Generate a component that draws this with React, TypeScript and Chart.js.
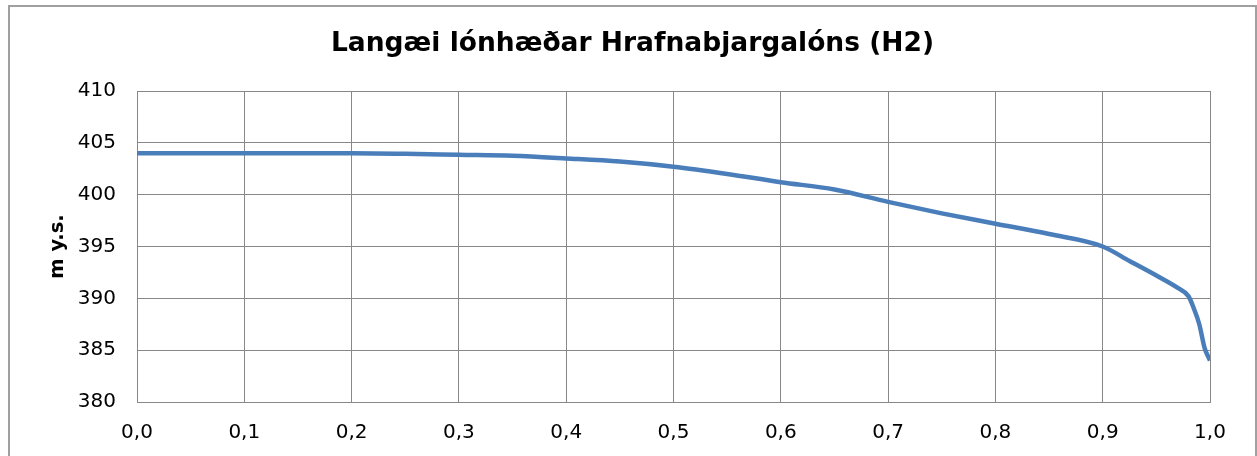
import React, { useEffect, useRef } from "react";
import { Chart, registerables } from "chart.js";

Chart.register(...registerables);

const titleText = "Langæi lónhæðar Hrafnabjargalóns (H2)";
const yAxisTitle = "m y.s.";

const durationFraction = [
  0, 0.05, 0.1, 0.15, 0.2, 0.25, 0.3, 0.35, 0.4, 0.45, 0.5, 0.55, 0.6, 0.65, 0.7,
  0.75, 0.8, 0.85, 0.9, 0.925, 0.95, 0.97, 0.98, 0.985, 0.99, 0.995, 1.0,
];
const waterLevel = [
  404.0, 404.0, 404.0, 404.0, 404.0, 403.95, 403.85, 403.75, 403.5, 403.2, 402.7,
  402.0, 401.2, 400.5, 399.3, 398.2, 397.2, 396.2, 395.0, 393.6, 392.2, 391.0,
  390.2, 389.0, 387.5, 385.2, 384.0,
];

const xMin = 0;
const xMax = 1;
const xStep = 0.1;
const yMin = 380;
const yMax = 410;
const yStep = 5;

const FONT = "'DejaVu Sans', Verdana, sans-serif";

export default function App() {
  const canvasRef = useRef<HTMLCanvasElement | null>(null);

  useEffect(() => {
    const canvas = canvasRef.current;
    if (!canvas) return;
    const points = durationFraction.map((x, i) => ({ x, y: waterLevel[i] }));
    const chart = new Chart(canvas, {
      type: "line",
      data: {
        datasets: [
          {
            data: points,
            borderColor: "#4a7ebb",
            borderWidth: 4.5,
            pointRadius: 0,
            fill: false,
            cubicInterpolationMode: "monotone",
          },
        ],
      },
      options: {
        animation: false,
        responsive: false,
        maintainAspectRatio: false,
        color: "#000",
        layout: { padding: 0 },
        plugins: {
          legend: { display: false },
          tooltip: { enabled: false },
          title: {
            display: true,
            text: titleText,
            color: "#000",
            font: { family: FONT, size: 26.5, weight: "bold", lineHeight: 1.2 },
            padding: { top: 21, bottom: 31.2 },
          },
        },
        scales: {
          x: {
            type: "linear",
            min: xMin,
            max: xMax,
            afterFit: (scale: any) => {
              scale.height = 57;
              scale.paddingRight = 45;
            },
            ticks: {
              stepSize: xStep,
              color: "#000",
              padding: 19,
              font: { family: FONT, size: 20 },
              maxRotation: 0,
              callback: (v: any) => Number(v).toFixed(1).replace(".", ","),
            },
            grid: { color: "#888888", lineWidth: 1, drawTicks: false },
            border: { color: "#888888", width: 1 },
          },
          y: {
            type: "linear",
            min: yMin,
            max: yMax,
            afterFit: (scale: any) => {
              scale.width = 127;
            },
            ticks: {
              stepSize: yStep,
              color: "#000",
              padding: 21,
              font: { family: FONT, size: 20 },
            },
            grid: { color: "#888888", lineWidth: 1, drawTicks: false },
            border: { color: "#888888", width: 1 },
            title: {
              display: true,
              text: yAxisTitle,
              color: "#000",
              font: { family: FONT, size: 19.5, weight: "bold", lineHeight: 1.2 },
              padding: { top: 36, bottom: 0 },
            },
          },
        },
      },
    });
    return () => chart.destroy();
  }, []);

  return (
    <div
      style={{
        position: "absolute",
        left: 8,
        top: 5,
        width: 1249,
        height: 470,
        border: "2px solid #a0a0a0",
        boxSizing: "border-box",
        background: "#fff",
      }}
    >
      <canvas
        ref={canvasRef}
        width={1245}
        height={452}
        style={{ position: "absolute", left: 0, top: 0, width: 1245, height: 452 }}
      />
    </div>
  );
}
